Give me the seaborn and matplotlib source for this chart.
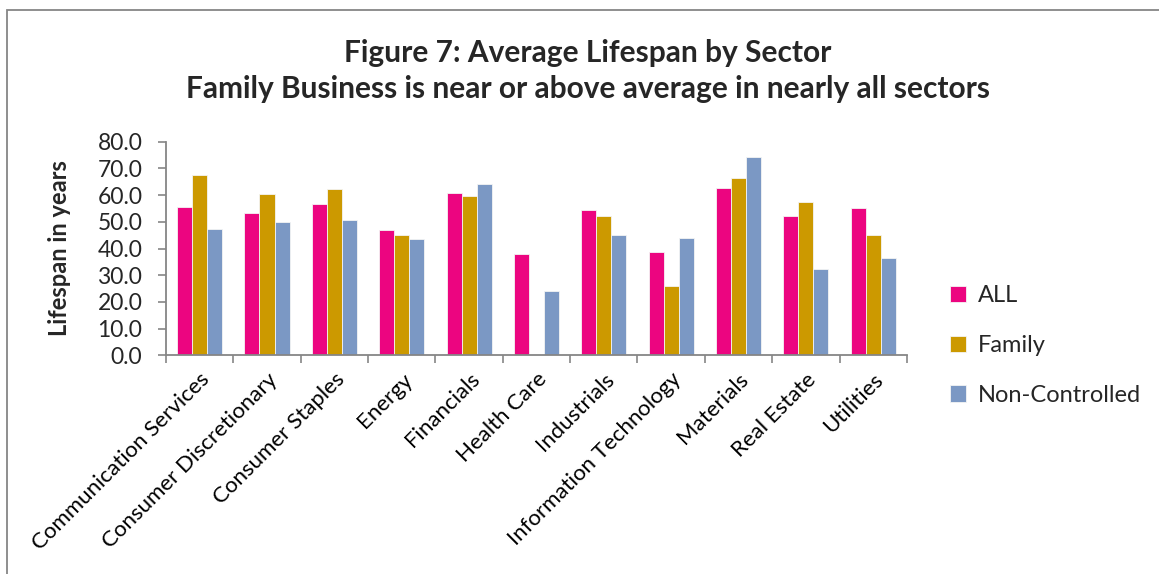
import matplotlib
matplotlib.use("Agg")
import matplotlib.pyplot as plt
from matplotlib.patches import Rectangle
from matplotlib.ticker import FixedLocator, MultipleLocator
import seaborn as sns
import pandas as pd
import numpy as np

sectors = ["Communication Services", "Consumer Discretionary", "Consumer Staples",
           "Energy", "Financials", "Health Care", "Industrials",
           "Information Technology", "Materials", "Real Estate", "Utilities"]
all_vals = [55.4, 53.4, 56.7, 46.8, 60.7, 38.1, 54.3, 38.8, 62.8, 52.3, 55.3]
family_vals = [67.5, 60.3, 62.2, 44.9, 59.8, 0.0, 52.3, 26.0, 66.5, 57.4, 44.9]
noncontrolled_vals = [47.3, 49.9, 50.7, 43.7, 64.2, 24.2, 44.9, 43.8, 74.2, 32.4, 36.6]
series_names = ["ALL", "Family", "Non-Controlled"]
colors = ["#EC0580", "#CC9900", "#7B98C4"]
title = "Figure 7: Average Lifespan by Sector\nFamily Business is near or above average in nearly all sectors"
ylabel = "Lifespan in years"

df = pd.DataFrame({
    "Sector": sectors * 3,
    "Series": [series_names[0]] * len(sectors) + [series_names[1]] * len(sectors) + [series_names[2]] * len(sectors),
    "Value": all_vals + family_vals + noncontrolled_vals,
})

sns.set_theme(style="white")
FONT = ["Lato", "DejaVu Sans"]
plt.rcParams["font.family"] = FONT

fig = plt.figure(figsize=(11.59, 5.74), dpi=100)
ax = fig.add_axes([0.1432, 0.381, 0.6393, 0.372])

sns.barplot(data=df, x="Sector", y="Value", hue="Series", order=sectors,
            hue_order=series_names, palette=colors, width=0.67, dodge=True,
            saturation=1, errorbar=None, edgecolor="#f4f4f4", linewidth=0.6, ax=ax)

ax.set_xlim(-0.5, len(sectors) - 0.5)
ax.set_ylim(0, 80)
ax.yaxis.set_major_locator(MultipleLocator(10))
ax.set_yticklabels([f"{v:.1f}" for v in ax.get_yticks()], fontsize=16.5)
ax.set_xlabel("")
ax.set_ylabel(ylabel, fontsize=17, fontweight="bold")
ax.yaxis.set_label_coords(-0.128, 0.5)

ax.set_xticks(range(len(sectors)))
ax.set_xticklabels(sectors, rotation=45, ha="right", rotation_mode="anchor", fontsize=16)
ax.xaxis.set_minor_locator(FixedLocator(np.arange(-0.5, len(sectors), 1.0)))
ax.tick_params(axis="x", which="major", length=0, pad=10, colors="black")
ax.tick_params(axis="x", which="minor", length=6, width=1.2, color="#868686", direction="out", bottom=True)
ax.tick_params(axis="y", which="major", length=6, width=1.2, color="#868686", direction="out", left=True, pad=11)

for s in ["top", "right"]:
    ax.spines[s].set_visible(False)
for s in ["left", "bottom"]:
    ax.spines[s].set_color("#868686")
    ax.spines[s].set_linewidth(1.3)
ax.grid(False)

leg = ax.legend(loc="center left", bbox_to_anchor=(1.045, 0.045), frameon=False,
                fontsize=17, handlelength=0.7, handleheight=0.7, handletextpad=0.5,
                labelspacing=1.22, borderaxespad=0)

fig.text(0.507, 0.876, title, ha="center", va="center", fontsize=21.5,
         fontweight="bold", linespacing=1.35)

fig.patches.append(Rectangle((7 / 1159, -0.1), 1.2, 1 - 9.5 / 574 + 0.1,
                             transform=fig.transFigure, fill=False,
                             edgecolor="#868686", linewidth=1.3))

fig.savefig("out.png", dpi=100, facecolor="white")
